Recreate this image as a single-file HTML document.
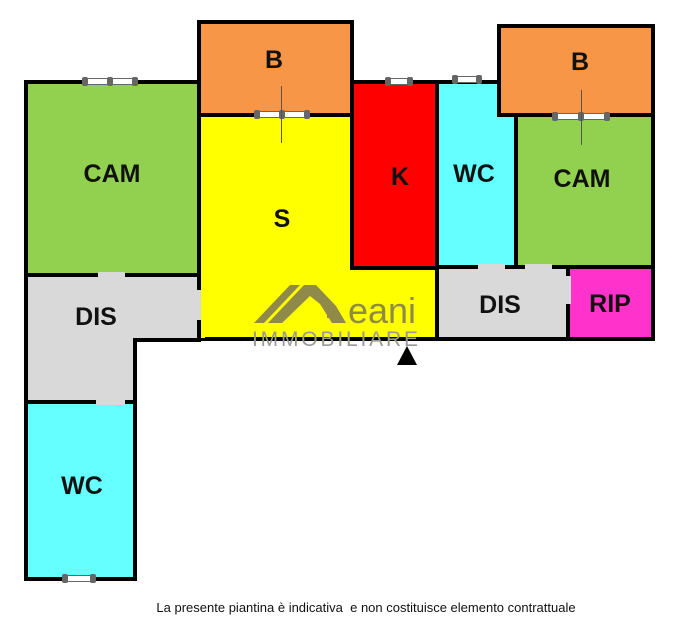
<!DOCTYPE html>
<html><head><style>
body{margin:0;width:676px;height:635px;background:#fff;position:relative;overflow:hidden;font-family:"Liberation Sans",Arial,sans-serif}
div{position:absolute;box-sizing:border-box}
.r{border:4px solid #000}
.l{font-weight:bold;font-size:25px;color:#111;text-align:center;width:100px}
.g{background:#d9d9d9}
.w{height:7px;background:#fff;border:1px solid #666;border-radius:2px}
.wc{width:6px;height:9px;background:#666;border-radius:2px;top:-2px}
</style></head><body>
<div class="r" style="left:24px;top:80px;width:177px;height:197px;background:#92d050"></div>
<div class="r" style="left:24px;top:273px;width:177px;height:69px;background:#d9d9d9"></div>
<div class="r" style="left:24px;top:338px;width:113px;height:68px;background:#d9d9d9"></div>
<div style="left:28px;top:330px;width:105px;height:12px;background:#d9d9d9"></div>
<div class="r" style="left:24px;top:400px;width:113px;height:181px;background:#66ffff"></div>
<div class="r" style="left:197px;top:112px;width:243px;height:229px;background:#ffff00"></div>
<div class="r" style="left:197px;top:20px;width:157px;height:97px;background:#f79646"></div>
<div class="r" style="left:350px;top:80px;width:89px;height:190px;background:#ff0000"></div>
<div style="left:350px;top:114px;width:4px;height:152px;background:#000"></div>
<div class="r" style="left:435px;top:80px;width:83px;height:190px;background:#66ffff"></div>
<div class="r" style="left:514px;top:112px;width:141px;height:158px;background:#92d050"></div>
<div class="r" style="left:497px;top:24px;width:158px;height:93px;background:#f79646"></div>
<div class="r" style="left:435px;top:265px;width:135px;height:76px;background:#d9d9d9"></div>
<div class="r" style="left:566px;top:265px;width:89px;height:76px;background:#ff33cc"></div>
<div class="g" style="left:98px;top:272px;width:27px;height:6px"></div>
<div class="g" style="left:96px;top:399px;width:29px;height:6px"></div>
<div class="g" style="left:196px;top:290px;width:6px;height:30px"></div>
<div style="left:201px;top:270px;width:4px;height:68px;background:#ffff00"></div>
<div class="g" style="left:478px;top:264px;width:27px;height:6px"></div>
<div class="g" style="left:525px;top:264px;width:27px;height:6px"></div>
<div class="g" style="left:565px;top:276px;width:6px;height:28px"></div>
<div class="w" style="left:82px;top:78px;width:56px"><div class="wc" style="left:-1px"></div><div class="wc" style="left:24px"></div><div class="wc" style="left:49px"></div></div>
<div class="w" style="left:254px;top:111px;width:56px"><div class="wc" style="left:-1px"></div><div class="wc" style="left:24px"></div><div class="wc" style="left:49px"></div></div>
<div class="w" style="left:385px;top:78px;width:28px"><div class="wc" style="left:-1px"></div><div class="wc" style="left:21px"></div></div>
<div class="w" style="left:452px;top:76px;width:30px"><div class="wc" style="left:-1px"></div><div class="wc" style="left:23px"></div></div>
<div class="w" style="left:552px;top:113px;width:58px"><div class="wc" style="left:-1px"></div><div class="wc" style="left:25px"></div><div class="wc" style="left:51px"></div></div>
<div class="w" style="left:62px;top:575px;width:34px"><div class="wc" style="left:-1px"></div><div class="wc" style="left:27px"></div></div>
<div style="left:281px;top:86px;width:1px;height:57px;background:#555"></div>
<div style="left:581px;top:90px;width:1px;height:55px;background:#555"></div>
<div class="l" style="left:224px;top:46px">B</div>
<div class="l" style="left:530px;top:48px">B</div>
<div class="l" style="left:62px;top:160px">CAM</div>
<div class="l" style="left:532px;top:165px">CAM</div>
<div class="l" style="left:232px;top:205px">S</div>
<div class="l" style="left:350px;top:163px">K</div>
<div class="l" style="left:424px;top:160px">WC</div>
<div class="l" style="left:46px;top:303px">DIS</div>
<div class="l" style="left:450px;top:291px">DIS</div>
<div class="l" style="left:560px;top:290px">RIP</div>
<div class="l" style="left:32px;top:472px">WC</div>
<svg style="position:absolute;left:250px;top:282px" width="180" height="70">
<polygon points="4,41 40,3 50,3 14,41" fill="#8f8a4a"/>
<polygon points="18,41 54,3 66,3 86,24 96,41 82,41 70,22 60,14 32,41" fill="#8f8a4a"/>
<rect x="77" y="27" width="4" height="4" fill="#8f8a4a"/><rect x="82" y="27" width="4" height="4" fill="#8f8a4a"/><rect x="77" y="32" width="4" height="4" fill="#8f8a4a"/><rect x="82" y="32" width="4" height="4" fill="#8f8a4a"/>
<text x="98" y="41" font-family="Liberation Sans" font-size="36" fill="#8f8a4a" textLength="68">eani</text>
<text x="2" y="64" font-family="Liberation Sans" font-size="21" fill="#999" textLength="166">IMMOBILIARE</text>
</svg>
<svg style="position:absolute;left:396px;top:345px" width="22" height="22"><polygon points="11,1 21,20 1,20" fill="#000"/></svg>
<div style="left:0;top:600px;width:732px;text-align:center;font-size:13px;color:#111">La presente piantina è indicativa&nbsp; e non costituisce elemento contrattuale</div>
</body></html>
